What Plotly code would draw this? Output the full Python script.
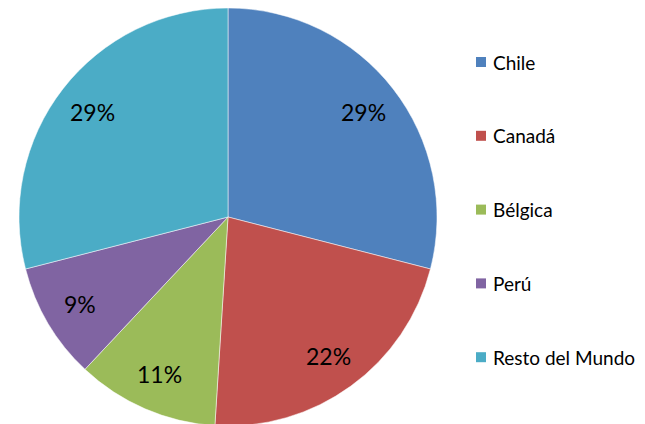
import math
import plotly.graph_objects as go

# ---- data ----
categories = ["Chile", "Canadá", "Bélgica", "Perú", "Resto del Mundo"]
values = [29, 22, 11, 9, 29]
colors = ["#4F81BD", "#C0504D", "#9BBB59", "#8064A2", "#4BACC6"]

# ---- layout constants ----
W, H = 645, 424
OFF = 8                   # page body margin offset seen in the screenshot
dom_x = [0.0, 0.6822]
dom_y = [0.01415, 1.0]
font_family = "Lato, 'Open Sans', sans-serif"
label_k = 0.82            # radial position of percent labels (fraction of radius)
legend_x_px = 476 - OFF   # left of legend squares
legend_top_px = 62 - OFF  # centre of first legend entry
legend_step_px = 73.8     # spacing between legend entries
sq = 10                   # legend square size

fig = go.Figure(
    go.Pie(
        labels=categories,
        values=values,
        marker=dict(colors=colors, line=dict(color="rgba(255,255,255,0.5)", width=1)),
        sort=False,
        direction="clockwise",
        rotation=0,
        textinfo="none",
        hoverinfo="label+percent",
        domain=dict(x=dom_x, y=dom_y),
        showlegend=False,
    )
)

# pie geometry (pixels) derived from the domain
cx = (dom_x[0] + dom_x[1]) / 2 * W
cy = H - (dom_y[0] + dom_y[1]) / 2 * H
R = min((dom_x[1] - dom_x[0]) * W, (dom_y[1] - dom_y[0]) * H) / 2

total = sum(values)
annotations = []
shapes = []
cum = 0.0
for v in values:
    mid = (cum + v / 2) / total * 2 * math.pi
    cum += v
    px = cx + label_k * R * math.sin(mid)
    py = cy - label_k * R * math.cos(mid)
    annotations.append(dict(
        x=px / W, y=1 - py / H, xref="paper", yref="paper",
        text=f"{round(v / total * 100)}%", showarrow=False,
        font=dict(family=font_family, size=23, color="#000000"),
        xanchor="center", yanchor="middle",
    ))

# legend drawn from the categories / colours
for i, (cat, col) in enumerate(zip(categories, colors)):
    yc = legend_top_px + i * legend_step_px
    shapes.append(dict(
        type="rect", xref="paper", yref="paper",
        x0=legend_x_px / W, x1=(legend_x_px + sq) / W,
        y0=1 - (yc + sq / 2) / H, y1=1 - (yc - sq / 2) / H,
        fillcolor=col, line=dict(width=0),
    ))
    annotations.append(dict(
        x=(legend_x_px + sq + 5) / W, y=1 - yc / H, xref="paper", yref="paper",
        text=cat, showarrow=False,
        font=dict(family=font_family, size=19, color="#000000"),
        xanchor="left", yanchor="middle",
    ))

fig.update_layout(
    width=W, height=H,
    margin=dict(l=0, r=0, t=0, b=0),
    paper_bgcolor="white",
    plot_bgcolor="white",
    annotations=annotations,
    shapes=shapes,
    showlegend=False,
)

fig.write_html("out.html")
